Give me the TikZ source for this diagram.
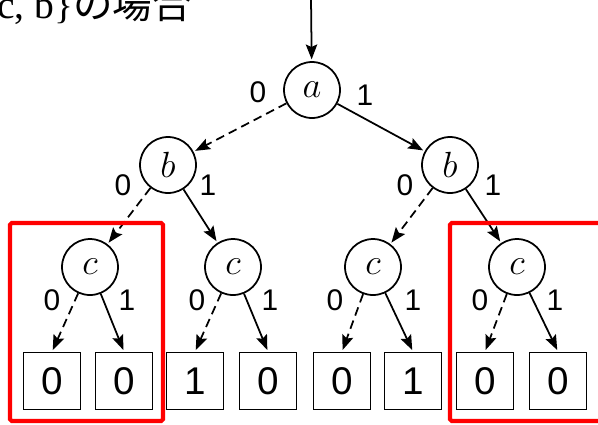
\documentclass[tikz,border=0pt]{standalone}
\usepackage{fontspec}
\setmainfont{Liberation Sans}
\newfontfamily\latinserif{Liberation Serif}
\newfontfamily\jpfont{Noto Sans CJK JP}
\usetikzlibrary{arrows.meta}

\begin{document}
\begin{tikzpicture}[x=0.02cm,y=-0.02cm,
  var/.style={circle,draw,line width=1pt,minimum size=1.12cm,inner sep=0pt,font=\fontsize{20}{20}\selectfont},
  leaf/.style={rectangle,draw,line width=1pt,minimum size=1.14cm,inner sep=0pt,font=\fontsize{22}{22}\selectfont},
  lbl/.style={inner sep=0pt,font=\fontsize{17}{17}\selectfont},
  one/.style={line width=1pt,-{Stealth[length=8.5pt,width=6.5pt,inset=1.5pt]},shorten >=1pt},
  zero/.style={one,dash pattern=on 5pt off 3pt},
  frame/.style={draw=red,line width=2.3pt,rounded corners=1pt}]
\useasboundingbox (0,0) rectangle (598,424);
% heading (cut at the left and top)
\node[anchor=base west,inner sep=0pt] (title) at (-3,18) {\fontsize{22.5}{22.5}\selectfont\latinserif c, b\}\jpfont の場合};
% variable nodes
\node[var] (a) at (312,90) {$a$};
\node[var] (bl) at (168,165) {$b$};
\node[var] (br) at (450,165) {$b$};
\node[var] (c1) at (90,267) {$c$};
\node[var] (c2) at (233,267) {$c$};
\node[var] (c3) at (373,267) {$c$};
\node[var] (c4) at (517,267) {$c$};
% terminal nodes
\node[leaf] (l1) at (52,381) {0};
\node[leaf] (l2) at (124,381) {0};
\node[leaf] (l3) at (195,381) {1};
\node[leaf] (l4) at (268,381) {0};
\node[leaf] (l5) at (342,381) {0};
\node[leaf] (l6) at (413,381) {1};
\node[leaf] (l7) at (485,381) {0};
\node[leaf] (l8) at (558,381) {0};
% root arrow
\coordinate (top) at (311,-2);
\draw[one] (top) -- (a);
% edges: dashed = 0, solid = 1
\draw[zero] (a) -- (bl);
\draw[one] (a) -- (br);
\draw[zero] (bl) -- (c1);
\draw[one] (bl) -- (c2);
\draw[zero] (br) -- (c3);
\draw[one] (br) -- (c4);
\draw[zero] (c1) -- (l1.north);
\draw[one] (c1) -- (l2.north);
\draw[zero] (c2) -- (l3.north);
\draw[one] (c2) -- (l4.north);
\draw[zero] (c3) -- (l5.north);
\draw[one] (c3) -- (l6.north);
\draw[zero] (c4) -- (l7.north);
\draw[one] (c4) -- (l8.north);
% edge labels
\node[lbl] at ([shift={(-54,2)}]a) {0};
\node[lbl] at ([shift={(53,5)}]a) {1};
\node[lbl] at ([shift={(-45,20)}]bl) {0};
\node[lbl] at ([shift={(40,20)}]bl) {1};
\node[lbl] at ([shift={(-45,20)}]br) {0};
\node[lbl] at ([shift={(43,20)}]br) {1};
\node[lbl] at ([shift={(-38,33)}]c1) {0};
\node[lbl] at ([shift={(37,33)}]c1) {1};
\node[lbl] at ([shift={(-36,33)}]c2) {0};
\node[lbl] at ([shift={(37,33)}]c2) {1};
\node[lbl] at ([shift={(-38,33)}]c3) {0};
\node[lbl] at ([shift={(40,33)}]c3) {1};
\node[lbl] at ([shift={(-37,33)}]c4) {0};
\node[lbl] at ([shift={(38,33)}]c4) {1};
% highlighted subtrees
\draw[frame] (10,223) rectangle (163,421);
\draw[frame] (450,223) rectangle (606,421);
\end{tikzpicture}
\end{document}
